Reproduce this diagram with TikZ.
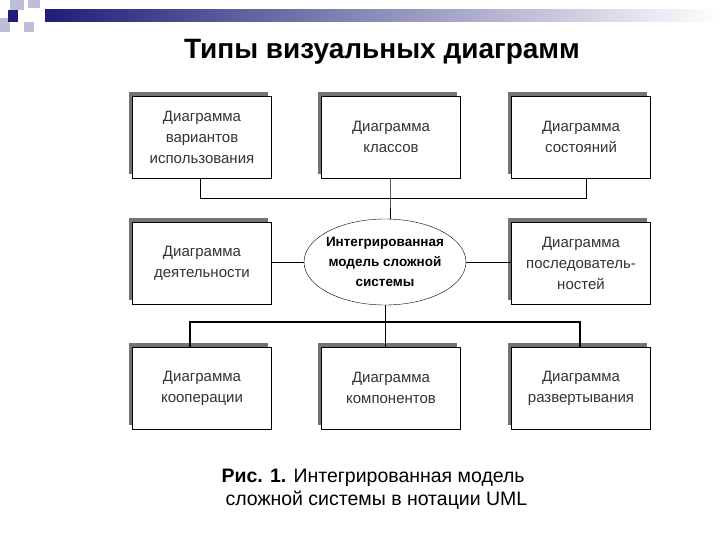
\documentclass[tikz,border=0pt]{standalone}
\usepackage{fontspec}
\setmainfont{Liberation Sans}
\usetikzlibrary{shapes.geometric}
\definecolor{navy}{RGB}{30,30,120}
\definecolor{sq}{RGB}{190,190,215}
\tikzset{
  dbox/.style={draw=black,fill=white,minimum width=139pt,minimum height=82pt,inner sep=0pt,align=center,font=\fontsize{15}{21}\selectfont,text=black!80},
  shad/.style={fill=black!55,minimum width=139pt,minimum height=82pt,inner sep=0pt},
  conn/.style={draw=black,line width=0.8pt}
}
\begin{document}
\begin{tikzpicture}[x=1pt,y=-1pt]
\useasboundingbox (0,0) rectangle (720,540);
% decoration
\shade[left color=navy,right color=white] (45,10) rectangle (720,22);
\fill[sq] (10,0) rectangle (24,10);
\fill[sq] (24,22) rectangle (34,32);
\fill[sq] (0,18) rectangle (10,32);
\fill[sq] (28,0) rectangle (40,8);
\fill[navy] (8,10) rectangle (18,22);
% title
\node (title) at (382,52) {\fontsize{28}{32}\selectfont\bfseries Типы визуальных диаграмм};
% shadows and boxes
\foreach \n/\x/\y in {a/202/137,b/391/137,c/581/137,d/202/263,f/581/263,g/202/388,h/391/388,i/581/388}{
  \node[shad] at (\x-4,\y-4) {};
}
\node[dbox] (a) at (202,137) {Диаграмма\\вариантов\\использования};
\node[dbox] (b) at (391,137) {Диаграмма\\классов};
\node[dbox] (c) at (581,137) {Диаграмма\\состояний};
\node[dbox] (d) at (202,263) {Диаграмма\\деятельности};
\node[dbox] (f) at (581,263) {Диаграмма\\последователь-\\ностей};
\node[dbox] (g) at (202,388) {Диаграмма\\кооперации};
\node[dbox] (h) at (391,388) {Диаграмма\\компонентов};
\node[dbox] (i) at (581,388) {Диаграмма\\развертывания};
\node[draw,ellipse,fill=white,minimum width=162pt,minimum height=86pt,inner sep=0pt] (e) at (385,262) {};
\node[align=center,font=\fontsize{13.5}{20}\selectfont\bfseries] (et) at (e.center) {Интегрированная\\модель сложной\\системы};
% connectors
\coordinate (t1) at (200,198); \coordinate (t3) at (586,198); \coordinate (t2) at (390,198);
\draw[conn] (a.south -| t1) -- (t1) -- (t3) -- (c.south -| t3);
\draw[conn] (b.south -| t2) -- (t2) -- (e.north -| t2);
\draw[conn] (d.east |- e.west) -- (e.west);
\draw[conn] (e.east) -- (f.west |- e.east);
\coordinate (u1) at (190,322); \coordinate (u2) at (385,322); \coordinate (u3) at (580,322);
\draw[conn] (e.south) -- (h.north -| u2);
\draw[conn,line width=1.3pt] (g.north -| u1) -- (u1) -- (u3) -- (i.north -| u3);
% caption
\node[anchor=west,font=\fontsize{19.5}{23}\selectfont] (cap1) at (218,478) {\textbf{Рис. 1.} Интегрированная модель};
\node[anchor=west,font=\fontsize{19.5}{23}\selectfont] (cap2) at (222,500) {сложной системы в нотации UML};
\end{tikzpicture}
\end{document}
